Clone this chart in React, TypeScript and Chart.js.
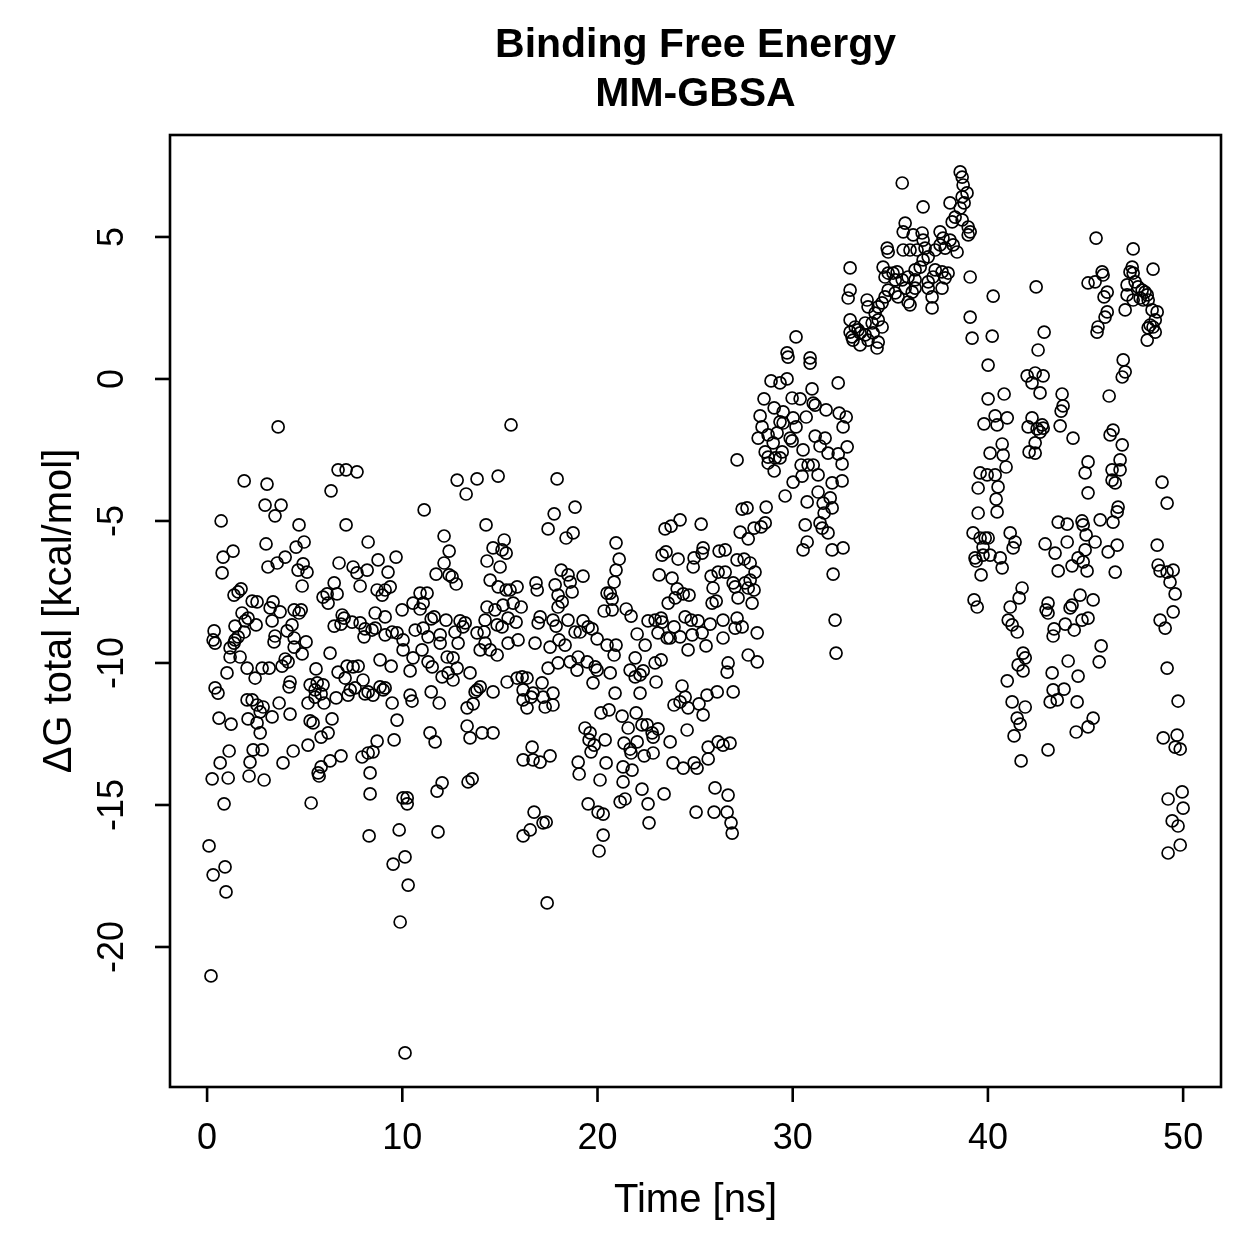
import React, { useEffect, useRef } from "react";
import { Chart, registerables } from "chart.js";

Chart.register(...registerables);

// Each sample: [time in ns, ΔG total in kcal/mol]
const samples: [number, number][] = [
  [0.10,-16.44],[0.20,-21.02],[0.31,-17.46],[0.26,-14.08],[0.36,-8.87],[0.31,-9.19],[0.41,-9.30],[0.41,-10.88],
  [0.56,-11.06],[0.61,-11.94],[0.67,-13.52],[0.72,-5.00],[0.77,-6.83],[0.82,-6.27],[0.87,-14.96],[0.92,-17.18],
  [0.97,-18.06],[1.02,-10.35],[1.08,-14.05],[1.13,-13.10],[1.18,-9.47],[1.18,-9.79],[1.23,-12.15],[1.33,-6.06],
  [1.38,-7.61],[1.38,-9.30],[1.43,-9.19],[1.43,-8.70],[1.59,-7.50],[1.59,-9.08],[1.69,-9.79],[1.74,-7.39],
  [1.79,-8.24],[1.90,-3.59],[1.90,-8.91],[1.95,-8.52],[2.05,-10.18],[2.05,-11.30],[2.10,-8.42],[2.10,-11.97],
  [2.15,-13.98],[2.20,-13.49],[2.31,-7.82],[2.31,-11.30],[2.36,-13.06],[2.46,-10.53],[2.51,-8.66],[2.56,-7.85],
  [2.56,-11.48],[2.56,-12.11],[2.72,-11.72],[2.72,-12.46],[2.82,-10.18],[2.82,-13.06],[2.87,-11.55],[2.92,-14.12],
  [2.97,-4.44],[3.02,-5.81],[3.07,-3.70],[3.12,-6.62],[3.18,-10.18],[3.23,-8.06],[3.33,-11.90],[3.33,-8.52],
  [3.38,-7.85],[3.43,-9.26],[3.48,-4.82],[3.48,-9.05],[3.59,-6.48],[3.64,-1.69],[3.69,-11.41],[3.74,-8.20],
  [3.79,-4.44],[3.84,-10.11],[3.89,-13.52],[4.00,-6.27],[4.00,-9.86],[4.10,-8.87],[4.15,-9.96],[4.20,-10.84],
  [4.25,-10.67],[4.25,-11.80],[4.35,-8.66],[4.41,-13.10],[4.46,-8.13],[4.46,-9.12],[4.46,-9.44],[4.56,-5.92],
  [4.66,-6.73],[4.71,-5.14],[4.71,-8.24],[4.82,-8.13],[4.87,-7.29],[4.87,-9.68],[4.92,-6.51],[4.97,-5.74],
  [5.07,-9.26],[5.12,-6.80],[5.17,-11.41],[5.17,-12.89],[5.28,-10.77],[5.28,-12.04],[5.33,-14.93],[5.43,-12.11],
  [5.53,-11.20],[5.53,-10.95],[5.58,-10.21],[5.64,-10.70],[5.69,-13.87],[5.74,-13.98],[5.84,-11.09],[5.84,-13.66],
  [5.84,-12.61],[5.94,-10.77],[5.94,-7.68],[5.99,-11.41],[6.15,-7.57],[6.20,-7.89],[6.20,-12.46],[6.30,-9.65],
  [6.30,-13.45],[6.35,-3.94],[6.40,-11.97],[6.51,-7.18],[6.51,-8.70],[6.61,-11.23],[6.66,-7.57],[6.71,-3.20],
  [6.71,-10.32],[6.76,-6.48],[6.86,-8.63],[6.86,-13.27],[6.92,-8.31],[7.02,-8.42],[7.07,-10.53],[7.12,-3.20],
  [7.12,-5.14],[7.17,-10.11],[7.22,-11.13],[7.33,-10.95],[7.43,-8.56],[7.48,-6.62],[7.48,-10.14],[7.58,-10.88],
  [7.68,-3.27],[7.68,-6.83],[7.74,-10.11],[7.84,-7.29],[7.84,-8.59],[7.94,-13.31],[7.99,-10.60],[8.04,-9.08],
  [8.09,-8.80],[8.09,-11.09],[8.20,-6.73],[8.25,-5.74],[8.25,-11.02],[8.25,-13.17],[8.30,-16.09],[8.35,-13.87],
  [8.35,-14.61],[8.45,-8.84],
  [8.50,-11.13],[8.50,-13.13],[8.61,-8.24],[8.61,-8.77],[8.71,-7.43],[8.71,-12.75],[8.76,-6.37],[8.86,-9.89],
  [8.86,-10.84],[8.97,-7.61],[9.02,-10.95],[9.12,-7.43],[9.12,-8.38],[9.12,-9.01],[9.12,-10.88],[9.27,-6.80],
  [9.38,-7.32],[9.43,-10.11],[9.48,-8.91],[9.48,-11.41],[9.53,-17.08],[9.58,-12.71],[9.68,-6.27],[9.73,-8.94],
  [9.73,-12.01],[9.84,-15.88],[9.89,-19.12],[9.99,-8.13],[10.04,-9.19],[10.04,-9.54],[10.04,-14.75],[10.14,-16.83],
  [10.14,-23.73],[10.25,-14.75],[10.25,-14.96],[10.30,-17.82],[10.40,-10.28],[10.40,-11.13],[10.50,-11.34],[10.55,-7.89],
  [10.55,-9.82],[10.66,-8.84],[10.91,-7.54],[10.91,-8.10],[11.01,-9.54],[11.07,-7.89],[11.07,-8.77],[11.12,-4.61],
  [11.27,-7.54],[11.32,-9.08],[11.32,-9.96],[11.42,-12.46],[11.48,-8.45],[11.48,-11.02],[11.53,-10.14],[11.63,-8.38],
  [11.68,-12.78],[11.73,-6.87],[11.78,-14.51],[11.83,-15.95],[11.89,-11.41],[11.94,-9.01],[11.94,-9.30],[12.04,-10.49],
  [12.04,-14.22],[12.14,-5.53],[12.14,-6.48],[12.24,-8.49],[12.30,-9.79],[12.35,-10.35],[12.40,-6.06],[12.40,-6.90],
  [12.55,-6.97],[12.60,-9.82],[12.60,-10.60],[12.70,-8.91],[12.76,-7.22],[12.81,-3.56],[12.81,-10.18],[12.86,-9.30],
  [12.96,-8.52],[13.11,-8.73],[13.22,-8.59],[13.27,-4.05],[13.32,-11.58],[13.32,-12.22],[13.37,-14.19],[13.47,-10.35],
  [13.47,-12.64],[13.58,-14.08],[13.63,-11.44],[13.73,-11.02],[13.83,-3.52],[13.83,-8.94],[13.83,-10.95],[13.99,-9.54],
  [13.99,-10.84],[14.09,-12.46],[14.19,-8.91],[14.24,-8.49],[14.24,-9.30],[14.29,-5.14],[14.34,-6.41],[14.34,-8.03],
  [14.50,-7.08],[14.50,-9.54],[14.65,-5.95],[14.65,-11.02],[14.65,-12.46],[14.75,-8.13],[14.86,-8.66],[14.86,-9.72],
  [14.91,-3.42],[14.91,-7.32],[15.01,-6.62],[15.11,-6.02],[15.11,-8.73],[15.16,-7.96],[15.22,-5.67],[15.32,-6.13],
  [15.32,-7.43],[15.37,-10.67],[15.42,-8.42],[15.42,-9.30],[15.52,-7.43],[15.57,-1.62],[15.68,-7.89],[15.83,-8.56],
  [15.88,-7.32],[15.88,-10.53],[15.93,-9.19],[16.09,-8.03],[16.14,-10.49],[16.19,-10.95],[16.19,-11.30],[16.19,-13.41],
  [16.19,-16.09],[16.39,-10.53],[16.39,-11.58],[16.55,-15.88],[16.60,-11.20],[16.65,-12.96],[16.70,-11.06],[16.70,-13.41],
  [16.75,-15.25],[16.80,-9.30],[16.85,-7.18],[16.91,-7.43],[16.96,-8.59],[17.06,-8.38],[17.06,-13.49],[17.16,-10.70],
  [17.21,-11.20],[17.21,-15.63],[17.32,-11.55],[17.37,-15.60],[17.42,-18.45],[17.47,-5.28],[17.47,-10.18],[17.57,-9.44],
  [17.57,-13.27],[17.72,-8.49],[17.72,-11.06],[17.72,-11.48],[17.78,-4.75],[17.83,-7.25],[17.88,-8.70],[17.93,-3.52],
  [17.98,-7.61],[18.03,-9.19],
  [17.98,-8.03],[17.98,-10.00],[18.14,-6.73],[18.19,-7.85],[18.34,-9.37],[18.39,-5.60],[18.49,-6.90],[18.49,-8.49],
  [18.60,-7.15],[18.60,-9.96],[18.70,-7.50],[18.75,-5.42],[18.85,-4.51],[18.85,-8.91],[18.95,-10.25],[19.01,-9.79],
  [19.01,-13.49],[19.06,-13.91],[19.11,-8.91],[19.26,-6.94],[19.26,-8.52],[19.36,-12.29],[19.47,-9.96],[19.52,-8.73],
  [19.52,-14.96],[19.57,-12.71],[19.62,-12.46],[19.67,-13.13],[19.72,-8.80],[19.77,-10.70],[19.83,-12.89],[19.88,-10.14],
  [19.98,-9.15],[19.98,-10.25],[20.03,-15.25],[20.08,-16.62],[20.13,-14.12],[20.18,-11.76],[20.29,-15.32],[20.29,-16.06],
  [20.34,-8.17],[20.39,-12.71],[20.44,-13.52],[20.49,-7.54],[20.49,-9.37],[20.59,-11.65],[20.65,-7.54],[20.65,-10.35],
  [20.75,-7.75],[20.75,-8.13],[20.85,-7.15],[20.85,-9.72],[20.90,-11.06],[20.95,-5.77],[20.95,-6.73],[20.95,-9.37],
  [21.11,-6.34],[21.16,-14.89],[21.26,-11.87],[21.31,-13.66],[21.31,-14.19],[21.36,-12.82],[21.41,-14.79],[21.47,-8.10],
  [21.57,-12.29],[21.67,-10.25],[21.67,-13.03],[21.72,-8.35],[21.72,-13.17],[21.77,-13.77],[21.93,-9.82],[21.93,-10.49],
  [21.98,-11.76],[22.03,-8.98],[22.03,-12.78],[22.18,-10.42],[22.18,-11.06],[22.28,-12.18],[22.28,-14.44],[22.34,-10.28],
  [22.39,-13.27],[22.44,-9.37],[22.54,-12.18],[22.59,-8.52],[22.59,-14.96],[22.64,-15.63],[22.80,-12.46],[22.85,-12.61],
  [22.85,-13.17],[22.95,-8.49],[22.95,-10.00],[23.00,-10.67],[23.10,-8.94],[23.10,-12.32],[23.16,-6.90],[23.26,-8.42],
  [23.26,-9.89],[23.31,-6.20],[23.31,-8.56],[23.41,-14.61],[23.46,-5.28],[23.51,-6.09],[23.57,-9.12],[23.62,-7.89],
  [23.72,-9.12],[23.72,-12.78],[23.77,-5.18],[23.82,-7.01],[23.87,-13.52],[23.92,-8.73],[23.92,-11.48],[23.98,-7.71],
  [24.08,-7.39],[24.13,-6.34],[24.23,-4.96],[24.23,-9.08],[24.23,-11.37],[24.33,-10.81],[24.39,-7.57],[24.39,-13.70],
  [24.49,-8.38],[24.49,-11.20],[24.59,-12.36],[24.64,-9.54],[24.64,-11.58],[24.69,-7.61],[24.80,-8.49],[24.85,-9.01],
  [24.90,-6.62],[24.95,-6.30],[24.95,-13.52],[25.05,-15.25],[25.10,-13.70],[25.15,-8.52],[25.20,-11.44],[25.31,-5.11],
  [25.36,-6.13],[25.36,-8.94],[25.41,-5.95],[25.41,-11.83],[25.56,-9.40],[25.61,-11.13],[25.67,-12.96],[25.67,-13.38],
  [25.77,-8.63],[25.82,-6.94],[25.87,-7.89],[25.92,-7.36],[25.97,-15.25],[26.02,-14.40],[26.08,-7.82],[26.13,-11.02],
  [26.18,-6.80],[26.18,-12.78],[26.23,-6.06],[26.43,-8.49],[26.43,-9.12],[26.43,-12.89],[26.64,-10.32],[26.64,-15.25],
  [26.69,-10.00],[26.69,-14.65],[26.79,-12.82],[26.84,-15.63],[26.90,-15.99],[26.95,-7.18],[26.95,-11.02],[27.05,-7.32],
  [27.05,-8.77],[27.15,-2.85],[27.15,-6.37],[27.15,-8.42],[27.20,-7.71],
  [26.54,-6.02],[26.54,-6.80],[27.31,-5.39],[27.41,-4.58],[27.41,-8.73],[27.51,-6.34],[27.56,-7.18],[27.66,-4.54],
  [27.72,-5.63],[27.72,-7.36],[27.72,-9.72],[27.82,-6.48],[27.82,-7.08],[27.92,-7.89],[28.02,-5.25],[28.02,-7.43],
  [28.07,-6.80],[28.18,-8.94],[28.18,-9.96],[28.23,-2.08],[28.33,-1.30],[28.38,-5.21],[28.43,-1.69],[28.53,-0.70],
  [28.59,-2.57],[28.59,-5.07],[28.64,-4.51],[28.74,-1.97],[28.74,-2.75],[28.74,-2.96],[28.89,-0.07],[29.00,-2.25],
  [29.05,-1.02],[29.05,-3.24],[29.10,-2.78],[29.20,-1.90],[29.35,-0.14],[29.35,-1.51],[29.35,-2.78],[29.46,-2.57],
  [29.51,-1.16],[29.51,-1.55],[29.61,-4.12],[29.71,0.92],[29.71,0.00],[29.76,0.77],[29.87,-2.08],[29.97,-0.67],
  [29.97,-2.18],[30.02,-1.37],[30.02,-3.63],[30.17,1.48],[30.17,-1.69],[30.38,-0.70],[30.43,-3.03],[30.48,-3.42],
  [30.53,-2.50],[30.53,-6.02],[30.64,-5.14],[30.69,-1.34],[30.74,-4.33],[30.74,-5.74],[30.79,-3.03],[30.89,0.74],
  [30.89,0.56],[30.99,-0.35],[31.05,-0.85],[31.05,-3.03],[31.15,-0.92],[31.15,-2.01],[31.30,-3.38],[31.30,-3.98],
  [31.40,-2.36],[31.40,-5.07],[31.51,-5.25],[31.56,-4.37],[31.61,-4.72],[31.66,-2.08],[31.71,-1.09],[31.81,-2.61],
  [31.81,-5.42],[31.92,-4.19],[32.02,-3.66],[32.02,-4.54],[32.02,-6.02],[32.07,-6.87],[32.17,-8.49],[32.22,-9.65],
  [32.33,-0.14],[32.33,-2.64],[32.38,-1.20],[32.53,-2.99],[32.53,-3.59],[32.58,-1.69],[32.58,-5.95],[32.74,-1.34],
  [32.79,-2.39],
  [32.84,2.85],[32.94,3.91],[32.94,3.13],[32.94,2.08],[32.94,1.65],[33.04,1.48],[33.09,1.37],[33.20,1.83],
  [33.35,1.73],[33.45,1.62],[33.45,1.20],[33.71,1.97],[33.71,1.55],[33.81,2.78],[33.86,2.54],[33.86,1.37],
  [34.07,1.97],[34.12,1.62],[34.22,2.32],[34.32,1.09],[34.38,2.54],[34.38,2.08],[34.38,1.30],[34.58,2.68],
  [34.58,1.83],[34.63,3.94],[34.73,3.59],[34.73,2.89],[34.84,4.61],[34.89,4.47],[34.89,3.73],[34.89,3.13],
  [35.14,3.73],[35.25,3.49],[35.25,3.03],[35.35,3.77],[35.40,2.89],[35.61,6.90],[35.61,3.49],[35.66,5.18],
  [35.66,4.54],[35.76,5.49],[35.76,3.20],[35.91,3.59],[35.91,2.71],[36.01,4.54],[36.01,2.61],[36.12,3.06],
  [36.17,5.07],[36.27,3.84],[36.27,3.49],[36.27,3.20],[36.37,4.54],[36.53,3.94],[36.63,5.14],[36.68,6.06],
  [36.68,4.89],[36.68,4.19],[36.78,4.61],[36.94,4.30],[36.94,3.42],[36.94,3.20],[37.14,2.89],[37.14,2.50],
  [37.19,3.59],[37.30,4.54],[37.30,3.84],[37.55,5.18],[37.55,4.72],[37.65,3.77],[37.65,3.20],[37.70,4.96],
  [37.81,4.61],[37.81,3.56],[37.96,3.73],[38.06,6.20],[38.06,4.89],[38.17,5.53],[38.22,4.72],[38.32,5.70],
  [38.42,4.47],[38.58,7.29],[38.58,6.02],[38.68,7.11],[38.68,6.41],[38.68,5.60],[38.73,6.83],[38.78,6.20],
  [38.93,6.55],[38.99,5.35],[39.09,5.18],[38.99,5.07],[39.09,3.59],[39.09,2.18],[39.19,1.44],
  [39.24,-5.42],[39.29,-7.78],[39.34,-6.30],[39.40,-6.41],[39.45,-8.03],[39.50,-3.84],[39.50,-4.72],[39.60,-3.31],
  [39.60,-5.60],[39.65,-6.90],[39.75,-5.92],[39.75,-6.20],[39.80,-1.58],[39.86,-5.60],[39.96,-3.38],[40.01,0.49],
  [40.01,-0.70],[40.01,-5.60],[40.11,-2.61],[40.11,-6.20],[40.22,1.51],[40.27,2.92],[40.37,-1.30],[40.37,-3.38],
  [40.42,-4.23],[40.47,-1.62],[40.47,-4.68],[40.52,-3.80],[40.63,-6.30],[40.73,-2.29],[40.73,-6.65],[40.78,-2.68],
  [40.83,-0.53],[40.93,-3.10],[40.99,-1.37],[40.99,-10.63],[41.04,-8.49],[41.14,-5.42],[41.14,-8.03],[41.24,-8.66],
  [41.24,-11.37],[41.29,-5.95],[41.34,-12.57],[41.39,-5.74],[41.50,-8.91],[41.50,-11.94],[41.55,-10.07],[41.60,-7.71],
  [41.65,-12.15],[41.70,-13.45],[41.75,-7.36],[41.80,-9.65],[41.80,-10.28],[41.91,-9.82],[41.91,-11.55],[42.01,0.11],
  [42.06,-1.69],[42.11,-2.57],[42.26,-0.14],[42.26,-1.37],[42.42,0.21],[42.42,-2.25],[42.42,-2.61],[42.47,3.24],
  [42.52,-1.76],[42.57,1.02],[42.67,-0.49],[42.67,-1.87],[42.78,-1.62],[42.83,0.11],[42.83,-1.73],[42.88,1.65],
  [42.93,-5.81],[42.98,-8.13],[43.08,-7.89],[43.08,-8.24],[43.08,-13.06],[43.19,-11.37],[43.29,-10.35],[43.34,-9.05],
  [43.34,-10.95],[43.39,-8.80],[43.44,-6.13],[43.55,-11.30],[43.60,-5.04],[43.60,-6.76],[43.70,-1.65],[43.75,-1.13],
  [43.80,-0.53],[43.85,-0.95],[43.90,-10.92],[43.96,-8.63],[44.06,-5.11],[44.06,-5.74],[44.11,-9.93],[44.21,-8.06],
  [44.31,-6.58],[44.31,-7.96],[44.36,-2.08],[44.42,-8.84],[44.52,-12.43],[44.57,-11.37],[44.62,-6.30],[44.62,-10.46],
  [44.72,-7.61],[44.82,-5.00],[44.82,-8.49],[44.88,-5.14],[44.88,-6.44],[44.98,-3.31],[45.03,-5.49],[45.08,-6.76],
  [45.13,3.38],[45.13,-2.92],[45.13,-4.01],[45.13,-8.42],[45.13,-12.25],
  [44.98,-6.02],[45.39,-7.78],[45.39,-11.94],[45.49,3.42],[45.49,-5.74],[45.54,4.96],[45.59,1.65],[45.64,1.83],
  [45.70,-9.96],[45.75,-4.96],[45.80,-9.40],[45.85,3.77],[45.90,3.66],[45.95,2.89],[46.00,2.18],[46.11,3.06],
  [46.11,2.36],[46.16,-6.09],[46.21,-0.60],[46.26,-1.97],[46.36,-3.20],[46.36,-3.56],[46.41,-1.80],[46.41,-5.04],
  [46.52,-3.66],[46.52,-6.80],[46.62,-4.68],[46.62,-5.85],[46.67,-4.51],[46.77,-2.85],[46.77,-3.20],[46.88,0.07],
  [46.88,-2.32],[46.93,0.67],[47.03,2.43],[47.03,0.25],[47.13,3.31],[47.13,2.96],[47.28,3.77],[47.39,3.94],
  [47.44,4.58],[47.44,3.73],[47.44,2.78],[47.54,3.42],[47.69,3.24],[47.80,2.85],[47.90,3.13],[47.95,2.78],
  [48.05,3.06],[48.16,2.96],[48.16,1.37],[48.21,2.78],[48.21,1.80],[48.31,1.90],[48.41,2.43],[48.46,3.87],
  [48.46,1.83],[48.57,2.08],[48.57,1.65],[48.67,2.36],[48.67,-5.85],[48.72,-6.55],[48.82,-6.76],[48.82,-8.49],
  [48.92,-3.63],[48.98,-12.64],[49.08,-8.77],[49.18,-4.37],[49.18,-6.80],[49.18,-10.18],[49.23,-14.79],[49.23,-16.69],
  [49.33,-7.15],[49.44,-15.56],[49.49,-6.73],[49.49,-8.20],[49.59,-7.57],[49.59,-12.96],[49.69,-12.54],[49.74,-11.34],
  [49.74,-15.74],[49.85,-13.03],[49.85,-16.41],[49.95,-14.54],[50.00,-15.11],
];

const xTicks = [0, 10, 20, 30, 40, 50];
const yTicks = [-20, -15, -10, -5, 0, 5];
const titleLines = ["Binding Free Energy", "MM-GBSA"];
const xTitle = "Time [ns]";
const yTitle = "\u0394G total [kcal/mol]";

const FONT = '"Liberation Sans", Arial, Helvetica, sans-serif';

const rAxesPlugin = {
  id: "rAxes",
  afterDraw(chart: any) {
    const { ctx, chartArea: a, scales } = chart;
    ctx.save();
    ctx.strokeStyle = "#000";
    ctx.fillStyle = "#000";
    ctx.lineWidth = 2.6;
    ctx.strokeRect(a.left, a.top, a.right - a.left, a.bottom - a.top);

    const tick = 15;
    ctx.font = `36px ${FONT}`;
    ctx.textAlign = "center";
    ctx.textBaseline = "middle";
    for (const v of xTicks) {
      const x = scales.x.getPixelForValue(v);
      ctx.beginPath();
      ctx.moveTo(x, a.bottom);
      ctx.lineTo(x, a.bottom + tick);
      ctx.stroke();
      ctx.fillText(String(v), x, a.bottom + 52);
    }
    for (const v of yTicks) {
      const y = scales.y.getPixelForValue(v);
      ctx.beginPath();
      ctx.moveTo(a.left, y);
      ctx.lineTo(a.left - tick, y);
      ctx.stroke();
      ctx.save();
      ctx.translate(a.left - 57, y);
      ctx.rotate(-Math.PI / 2);
      ctx.fillText(String(v), 0, 0);
      ctx.restore();
    }

    const cx = (a.left + a.right) / 2;
    const cy = (a.top + a.bottom) / 2;
    ctx.font = `40px ${FONT}`;
    ctx.fillText(xTitle, cx, a.bottom + 114);
    ctx.save();
    ctx.translate(a.left - 110, cy);
    ctx.rotate(-Math.PI / 2);
    ctx.fillText(yTitle, 0, 0);
    ctx.restore();

    ctx.font = `bold 41px ${FONT}`;
    ctx.fillText(titleLines[0], cx, 46);
    ctx.fillText(titleLines[1], cx, 95);
    ctx.restore();
  },
};

export default function App() {
  const ref = useRef<HTMLCanvasElement>(null);
  useEffect(() => {
    if (!ref.current) return;
    const chart = new Chart(ref.current, {
      type: "scatter",
      data: {
        datasets: [
          {
            label: "dG",
            data: samples.map(([t, g]) => ({ x: t, y: g })),
            pointStyle: "circle",
            pointRadius: 6,
            pointHoverRadius: 6,
            borderWidth: 1.7,
            borderColor: "#000",
            backgroundColor: "rgba(0,0,0,0)",
          },
        ],
      },
      options: {
        animation: false,
        responsive: false,
        devicePixelRatio: 1,
        layout: { padding: { left: 170, right: 38, top: 135, bottom: 172 } },
        plugins: { legend: { display: false }, tooltip: { enabled: false }, title: { display: false } },
        events: [],
        scales: {
          x: { type: "linear", min: -1.9, max: 51.94, display: false },
          y: { type: "linear", min: -24.93, max: 8.59, display: false },
        },
      },
      plugins: [rAxesPlugin],
    });
    return () => chart.destroy();
  }, []);
  return (
    <div style={{ position: "absolute", left: 0, top: 0, width: 1259, height: 1259, background: "#fff" }}>
      <canvas ref={ref} width={1259} height={1259} style={{ width: 1259, height: 1259 }} />
    </div>
  );
}
